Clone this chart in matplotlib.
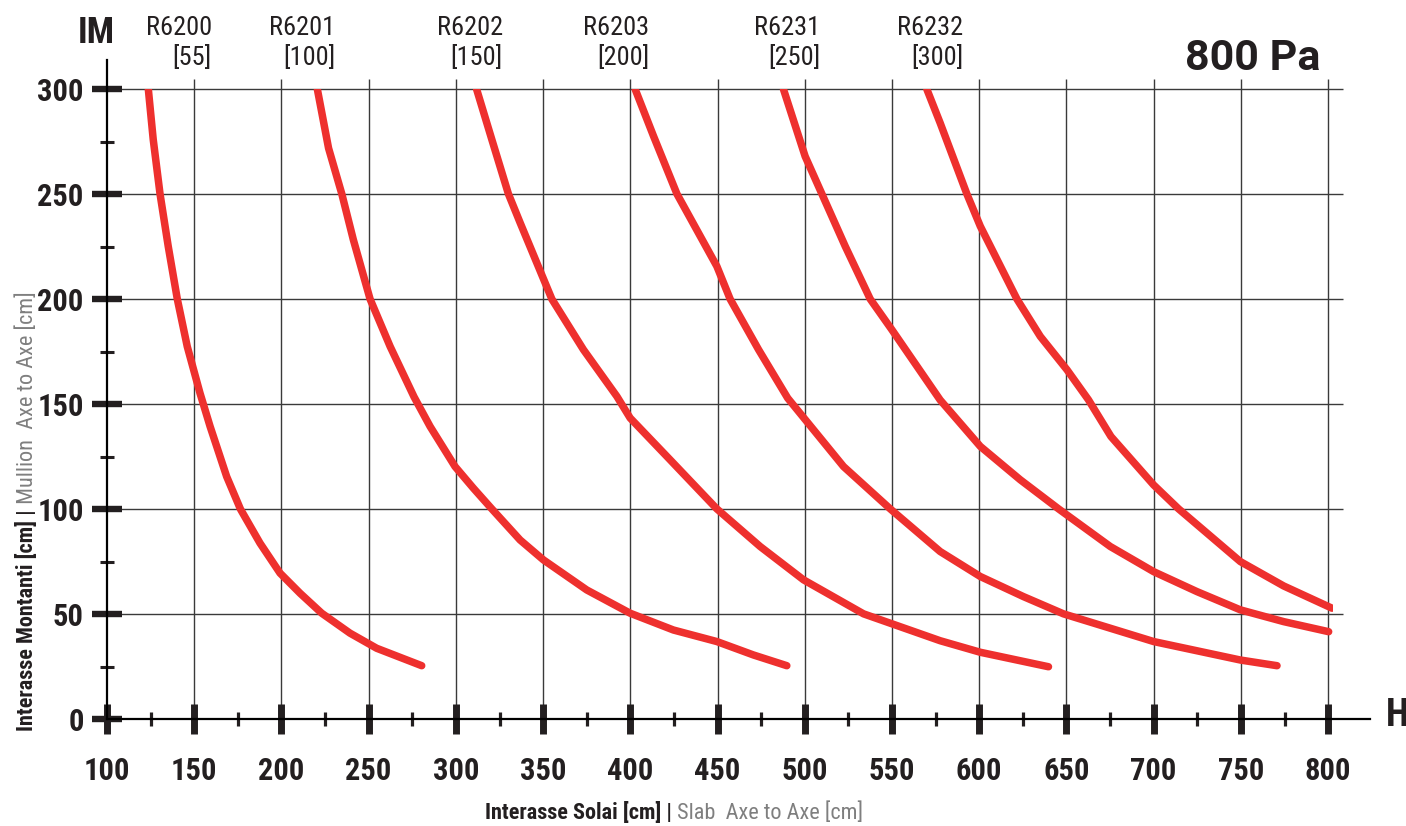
import matplotlib
matplotlib.use("Agg")
import matplotlib.pyplot as plt
from matplotlib import font_manager as fm
from matplotlib import transforms
from matplotlib.patches import Rectangle

# ---------------- data ----------------
series_names = ["R6200", "R6201", "R6202", "R6203", "R6231", "R6232"]
series_tags = ["[55]", "[100]", "[150]", "[200]", "[250]", "[300]"]

r6200_x = [123.7, 126.5, 130.4, 135.1, 140.3, 146.0, 153.3, 159.1, 168.6, 176.5, 187.7,
           199.2, 210.7, 223.1, 239.3, 254.6, 280.4]
r6200_y = [300, 276.1, 250.2, 225.2, 200.1, 177.5, 155.3, 139.4, 115.5, 100, 83.8,
           69.5, 59.9, 50.4, 40.9, 33.7, 25.4]

r6201_x = [220.6, 227.0, 234.6, 241.2, 250.8, 262.3, 276.0, 285.2, 299.5, 310.0, 320.6,
           336.8, 350.2, 375.0, 399.9, 424.7, 449.6, 470.6, 489.7]
r6201_y = [300, 272.0, 250.2, 228.4, 200.1, 177.5, 153.5, 139.4, 120.3, 110.0, 100.1,
           85.3, 75.8, 61.5, 50.4, 42.4, 36.9, 30.5, 25.4]

r6202_x = [311.9, 320.6, 330.1, 336.8, 355.0, 373.1, 392.3, 399.9, 422.8, 449.6, 474.4,
           499.3, 533.7, 577.6, 600.6, 639.7]
r6202_y = [300, 276.1, 250.2, 236.5, 200.1, 176.0, 153.7, 143.4, 123.5, 100.1, 82.2,
           66.3, 50.1, 37.3, 31.8, 24.9]

r6203_x = [402.8, 413.3, 426.7, 449.6, 457.2, 473.5, 490.2, 522.2, 549.0, 577.6, 600.6,
           625.4, 648.3, 700.0, 749.7, 770.7]
r6203_y = [300, 277.7, 250.2, 215.7, 200.1, 176.0, 152.9, 120.3, 100.1, 79.8, 67.9,
           58.3, 50.1, 36.9, 28.1, 25.4]

r6231_x = [487.8, 500.2, 509.8, 523.2, 537.5, 549.9, 577.6, 600.6, 623.5, 645.5, 675.1,
           700.0, 724.8, 749.7, 774.5, 800.3]
r6231_y = [300, 268.1, 250.2, 225.2, 200.1, 185.5, 152.0, 129.9, 114.0, 100.1, 82.2,
           70.2, 60.7, 52.0, 46.4, 41.6]

r6232_x = [570.0, 577.6, 592.9, 600.6, 621.6, 635.0, 650.3, 662.6, 675.5, 700.0, 714.3,
           749.7, 774.5, 802.2]
r6232_y = [300, 284.0, 250.2, 234.8, 200.1, 182.3, 166.4, 152.1, 134.6, 111.5, 100.1,
           75.0, 63.4, 52.8]

series_x = [r6200_x, r6201_x, r6202_x, r6203_x, r6231_x, r6232_x]
series_y = [r6200_y, r6201_y, r6202_y, r6203_y, r6231_y, r6232_y]

x_ticks = [100, 150, 200, 250, 300, 350, 400, 450, 500, 550, 600, 650, 700, 750, 800]
x_minor = [125, 175, 225, 275, 325, 375, 425, 475, 525, 575, 625, 675, 725, 775]
y_ticks = [0, 50, 100, 150, 200, 250, 300]
y_minor = [25, 75, 125, 175, 225, 275]

# caption placement (right edge of each series caption, data x)
label_right_x = [160, 231, 327, 411, 509, 591]

# ---------------- fonts ----------------
avail = {f.name for f in fm.fontManager.ttflist}
def pick(cands, default="DejaVu Sans"):
    for c in cands:
        if c in avail:
            return c
    return default

COND = pick(["Roboto Condensed", "Liberation Sans Narrow", "Open Sans Condensed",
             "DejaVu Sans Condensed"])
WIDE = pick(["Roboto", "Lato", "DejaVu Sans"])
plt.rcParams["font.family"] = [COND, "DejaVu Sans"]

DARK = "#231F20"
GRAY = "#7F7F7F"
RED = "#EE302E"

W, H = 1406, 826
fig = plt.figure(figsize=(W / 100, H / 100), dpi=100)
ax = fig.add_axes([107 / W, 107 / H, 1263 / W, 659 / H])
ax.set_xlim(100, 824)
ax.set_ylim(0, 314)

# grid
ax.vlines(x_ticks[1:], 0, 305, colors="#3a3a3a", linewidth=1.0, zorder=1)
ax.hlines(y_ticks[1:], 100, 808.5, colors="#3a3a3a", linewidth=1.0, zorder=1)

# curves
clip = Rectangle((100, 0), 702.6, 300, transform=ax.transData)
for xs, ys in zip(series_x, series_y):
    ln, = ax.plot(xs, ys, color=RED, linewidth=5.4, solid_capstyle="round",
                  solid_joinstyle="round", zorder=3)
    ln.set_clip_path(clip)

# spines
for s in ("top", "right"):
    ax.spines[s].set_visible(False)
for s in ("left", "bottom"):
    ax.spines[s].set_linewidth(1.6)
    ax.spines[s].set_color("black")
    ax.spines[s].set_zorder(4)

# ticks
ax.set_xticks(x_ticks, labels=[str(v) for v in x_ticks], fontsize=22,
              fontweight="bold", color=DARK)
ax.set_xticks(x_minor, minor=True)
ax.set_yticks(y_ticks, labels=[str(v) for v in y_ticks], fontsize=22,
              fontweight="bold", color=DARK)
ax.set_yticks(y_minor, minor=True)
ax.tick_params(axis="x", which="major", direction="inout", length=21.6, width=5,
               color=DARK, pad=16)
ax.tick_params(axis="x", which="minor", direction="inout", length=10.5, width=2.3,
               color=DARK)
ax.tick_params(axis="y", which="major", direction="inout", length=21.6, width=4.6,
               color=DARK, pad=6)
ax.tick_params(axis="y", which="minor", direction="inout", length=10.5, width=2.2,
               color=DARK)

# series captions
blend = transforms.blended_transform_factory(ax.transData, fig.transFigure)
for name, tag, xr in zip(series_names, series_tags, label_right_x):
    ax.text(xr, 1 - 43 / H, name + "\n" + tag, transform=blend, ha="right",
            va="center", multialignment="right", fontsize=19, color=DARK,
            linespacing=1.23)

# corner texts
fig.text(96 / W, 1 - 33 / H, "IM", ha="center", va="center", fontsize=26,
         fontweight="bold", color=DARK)
fig.text(1397 / W, 1 - 716 / H, "H", ha="center", va="center", fontsize=27,
         fontweight="bold", color=DARK)
fig.text(1320 / W, 1 - 58 / H, "800 Pa", ha="right", va="center", fontsize=31,
         fontweight="bold", color=DARK, family=[WIDE, "DejaVu Sans"])

# x axis label (two colours)
t1 = fig.text(485 / W, 2 / H, "Interasse Solai [cm] |", ha="left",
              va="bottom", fontsize=16, fontweight="bold", color=DARK)
ax.annotate(" Slab  Axe to Axe [cm]", xy=(1, 0), xycoords=t1, ha="left",
            va="bottom", fontsize=16, color=GRAY, annotation_clip=False)

# y axis label (two colours)
t2 = fig.text(27 / W, 1 - 731 / H, "Interasse Montanti [cm] |", ha="center",
              va="bottom", rotation=90, fontsize=16, fontweight="bold", color=DARK)
ax.annotate(" Mullion  Axe to Axe [cm]", xy=(0.5, 1), xycoords=t2, ha="center",
            va="bottom", rotation=90, fontsize=16, color=GRAY,
            annotation_clip=False)

fig.savefig("out.png", dpi=100, facecolor="white")
